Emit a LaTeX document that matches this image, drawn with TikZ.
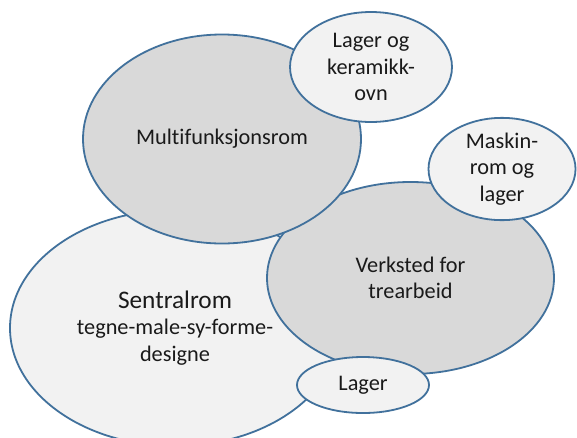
\documentclass[tikz,border=0pt]{standalone}
\usepackage{fontspec}
\setmainfont{Carlito}[Ligatures=NoCommon]
\usetikzlibrary{shapes.geometric}
\definecolor{edgeblue}{HTML}{41719C}
\definecolor{darkfill}{HTML}{D9D9D9}
\definecolor{lightfill}{HTML}{F2F2F2}
\definecolor{txt}{HTML}{1A1A1A}
\tikzset{
  room/.style={ellipse, draw=edgeblue, line width=1.8pt, inner sep=0pt, align=center, text=txt,
    font=\fontsize{22.3}{26.5}\selectfont},
  darkroom/.style={room, fill=darkfill},
  lightroom/.style={room, fill=lightfill},
}
\begin{document}
\begin{tikzpicture}[x=1pt,y=-1pt]
\clip (0,0) rectangle (577,437);
\fill[white] (0,0) rectangle (577,437);
\node[lightroom, minimum width=330pt, minimum height=236pt] (sentral) at (175,328)
  {{\fontsize{25.3}{29}\selectfont Sentralrom}\\tegne-male-sy-forme-\\designe};
\node[darkroom, minimum width=287pt, minimum height=192pt] (verksted) at (410.5,278)
  {Verksted for\\trearbeid};
\node[darkroom, minimum width=278pt, minimum height=209pt] (multi) at (222,139)
  {Multifunksjonsrom};
\node[lightroom, minimum width=162pt, minimum height=110pt] (keramikk) at (371,67)
  {Lager og\\keramikk-\\ovn};
\node[lightroom, minimum width=147pt, minimum height=98pt] (maskin) at (502,169)
  {Maskin-\\rom og\\lager};
\node[lightroom, minimum width=132pt, minimum height=56pt] (lager) at (363,385)
  {Lager};
\end{tikzpicture}
\end{document}
